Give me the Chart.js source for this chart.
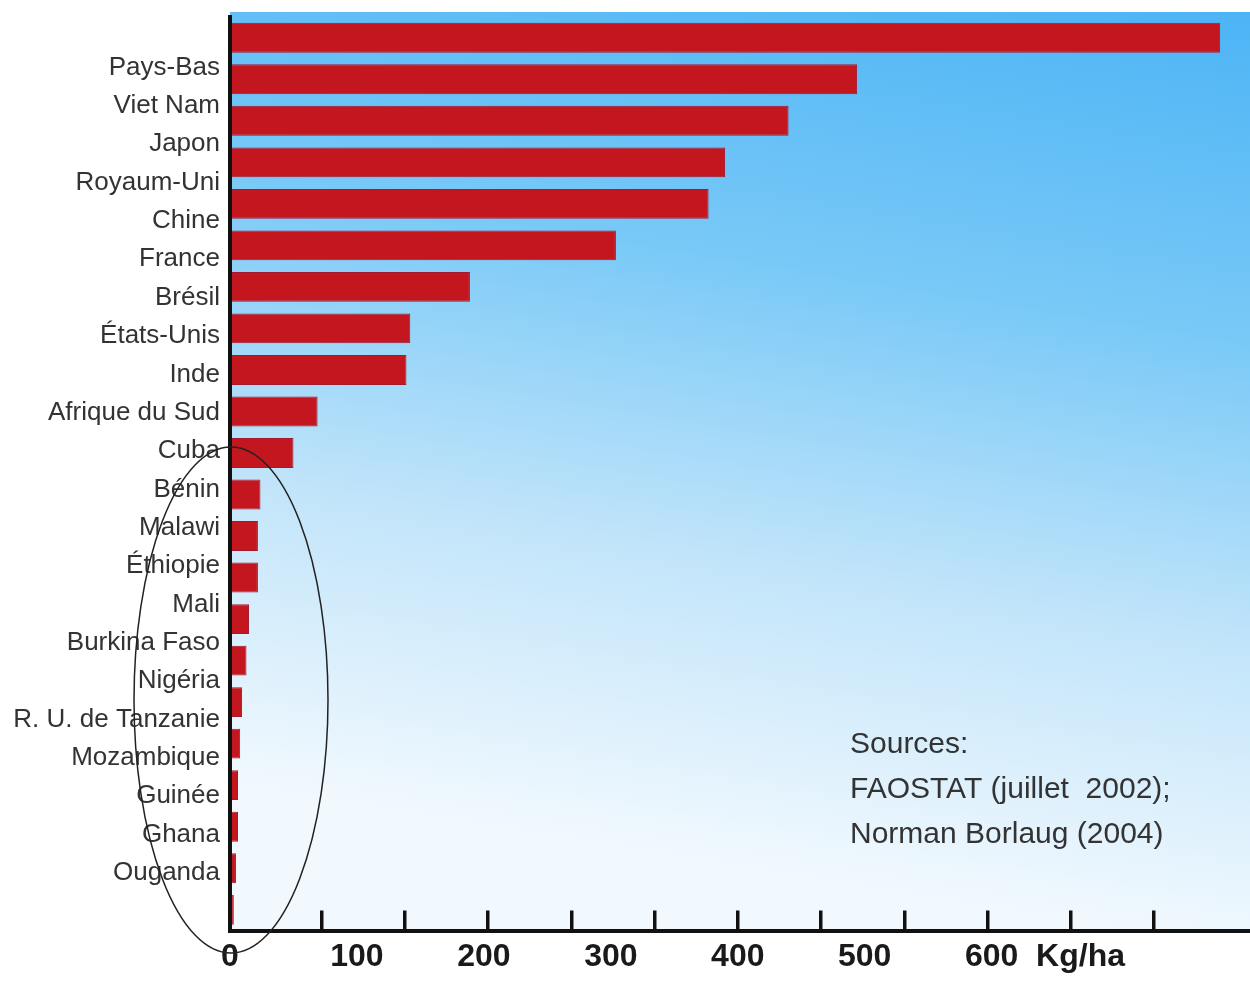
<!DOCTYPE html>
<html>
<head>
<meta charset="utf-8">
<title>Consommation d'engrais (Kg/ha)</title>
<script src="https://cdn.jsdelivr.net/npm/chart.js@4.4.1/dist/chart.umd.min.js"></script>
<style>
  body { margin: 0; background: #fff; }
</style>
</head>
<body>
<canvas id="bar-chart" width="1250" height="983"></canvas>
<script>
// pays, du plus gros consommateur au plus petit
var pays = ['Pays-Bas', 'Viet Nam', 'Japon', 'Royaum-Uni', 'Chine', 'France', 'Brésil',
  'États-Unis', 'Inde', 'Afrique du Sud', 'Cuba', 'Bénin', 'Malawi', 'Éthiopie', 'Mali',
  'Burkina Faso', 'Nigéria', 'R. U. de Tanzanie', 'Mozambique', 'Guinée', 'Ghana', 'Ouganda'];

// engrais en Kg/ha
var kgHa = [780, 494, 440, 390, 377, 304, 189, 142, 139, 69, 50, 24, 22, 22, 15, 13, 9.5, 8, 6.3, 6.3, 4.7, 3];

var graduations = [0, 100, 200, 300, 400, 500, 600];
var unite = 'Kg/ha';
var sources = ['Sources:', 'FAOSTAT (juillet  2002);', 'Norman Borlaug (2004)'];

var sans = '"Liberation Sans", Arial, sans-serif';

// degrade bleu du fond
var fond = {
  id: 'fond',
  beforeDraw: function(chart) {
    var a = chart.chartArea, ctx = chart.ctx;
    var g = ctx.createLinearGradient(a.right, a.top - 5, a.right - 150, a.bottom);
    g.addColorStop(0, '#4db4f5');
    g.addColorStop(0.35, '#79c9f7');
    g.addColorStop(0.68, '#c3e5fa');
    g.addColorStop(1, '#f2f9fe');
    ctx.save();
    ctx.fillStyle = g;
    ctx.fillRect(a.left, a.top - 5, a.right - a.left, a.bottom - a.top + 5);
    ctx.restore();
  }
};

// ellipse autour des pays africains + texte des sources
var notes = {
  id: 'notes',
  afterDraw: function(chart) {
    var ctx = chart.ctx;
    var x0 = chart.scales.x.getPixelForValue(0);
    ctx.save();
    ctx.beginPath();
    ctx.ellipse(x0 + 1, 700, 97, 253, 0, 0, 2 * Math.PI);
    ctx.strokeStyle = '#222';
    ctx.lineWidth = 1.5;
    ctx.stroke();

    ctx.fillStyle = '#333';
    ctx.font = '30px ' + sans;
    ctx.textBaseline = 'middle';
    ctx.textAlign = 'left';
    for (var i = 0; i < sources.length; i++) {
      ctx.fillText(sources[i], 850, 745 + i * 45);
    }
    ctx.restore();
  }
};

new Chart(document.getElementById('bar-chart'), {
  type: 'bar',
  data: {
    labels: pays,
    datasets: [{
      label: unite,
      data: kgHa,
      xAxisID: 'x',
      yAxisID: 'y',
      backgroundColor: '#c4161e',
      borderColor: '#a3192f',
      borderWidth: 1,
      barPercentage: 0.72,
      categoryPercentage: 1
    }]
  },
  options: {
    indexAxis: 'y',
    responsive: false,
    animation: false,
    layout: { padding: { top: 17, left: 0, right: 0, bottom: 0 } },
    plugins: {
      legend: { display: false },
      tooltip: { enabled: false }
    },
    scales: {
      // axe des barres (cache)
      y: { display: false },
      // noms des pays, decales comme sur l'original
      yl: {
        type: 'linear',
        position: 'left',
        reverse: true,
        offset: false,
        min: -1.316,
        max: 22.5,
        afterBuildTicks: function(axis) {
          axis.ticks = pays.map(function(p, i) { return { value: i }; });
        },
        afterFit: function(axis) {
          axis.width = 230;
          axis.paddingTop = 0;
          axis.paddingBottom = 0;
        },
        grid: { display: false, drawTicks: false },
        border: { display: true, color: '#111', width: 4, z: 1 },
        ticks: {
          autoSkip: false,
          padding: 10,
          color: '#333',
          font: { family: sans, size: 26 },
          callback: function(v) { return pays[v]; }
        }
      },
      // petits traits de graduation vers le haut
      xt: {
        type: 'linear',
        position: 'bottom',
        weight: 0,
        offset: false,
        min: -0.1,
        max: 12.15,
        afterBuildTicks: function(axis) {
          var t = [];
          for (var k = 1; k <= 11; k++) t.push({ value: k });
          axis.ticks = t;
        },
        afterFit: function(axis) { axis.height = 0; },
        grid: { display: true, drawOnChartArea: false, drawTicks: true, tickLength: -20, color: '#111', lineWidth: 3.5 },
        border: { display: false },
        ticks: { display: false }
      },
      x: {
        type: 'linear',
        position: 'bottom',
        weight: 1,
        offset: false,
        min: 0,
        max: 803.5,
        afterBuildTicks: function(axis) {
          axis.ticks = graduations.map(function(v) { return { value: v }; }).concat([{ value: 670 }]);
        },
        afterFit: function(axis) { axis.height = 52.5; },
        grid: { display: false, drawTicks: false },
        border: { display: true, color: '#111', width: 4, z: 1 },
        ticks: {
          autoSkip: false,
          maxRotation: 0,
          padding: 7,
          color: '#1a1a1a',
          font: { family: sans, size: 32, weight: 'bold' },
          callback: function(v) { return v === 670 ? unite : v; }
        }
      }
    }
  },
  plugins: [fond, notes]
});
</script>
</body>
</html>
